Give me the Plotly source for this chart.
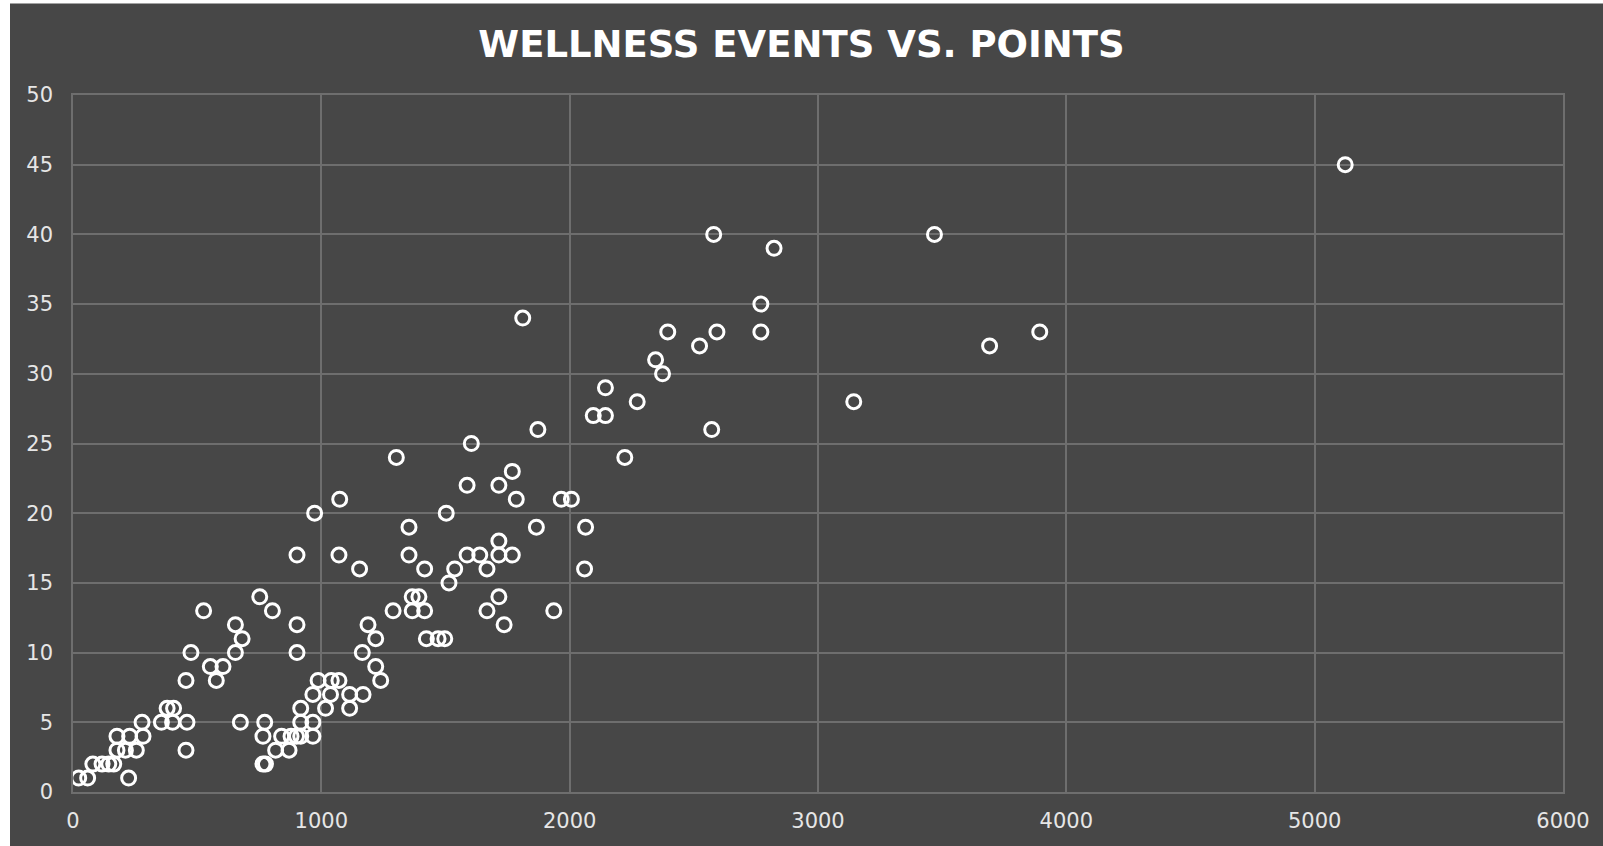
import plotly.graph_objects as go

points_earned = [
    23, 59, 80, 117, 144, 164, 224,
    177, 177, 228, 211, 255, 278, 282,
    356, 379, 405, 401, 459, 455, 455, 475, 526, 553, 577, 604, 654, 681, 654, 674,
    752, 803, 902, 902, 902,
    772, 765, 765, 775,
    816, 840, 870, 878, 900, 917, 917, 917, 966, 966, 966, 987, 1017, 1037, 1040, 1071,
    1114, 1114, 1168, 1165, 1188, 1219, 1219, 1239,
    973, 1074, 1071, 1154,
    1302, 1289, 1353, 1353, 1366, 1393, 1366, 1416, 1416, 1423, 1470, 1497, 1503, 1514,
    1537, 1587, 1587, 1604, 1638, 1667, 1667, 1715, 1715, 1715, 1715, 1736, 1769, 1769,
    1785, 1811, 1866, 1872, 1936, 1966, 2007, 2060, 2064,
    2095, 2144, 2144, 2222, 2272, 2346, 2374, 2395, 2523, 2572, 2580, 2593, 2770, 2770,
    2823, 3144, 3469, 3691, 3893, 5123,
]
wellness_events = [
    1, 1, 2, 2, 2, 2, 1,
    4, 3, 4, 3, 3, 5, 4,
    5, 6, 6, 5, 5, 3, 8, 10, 13, 9, 8, 9, 12, 11, 10, 5,
    14, 13, 12, 10, 17,
    5, 4, 2, 2,
    3, 4, 3, 4, 4, 4, 5, 6, 4, 5, 7, 8, 6, 7, 8, 8,
    7, 6, 7, 10, 12, 11, 9, 8,
    20, 21, 17, 16,
    24, 13, 19, 17, 14, 14, 13, 13, 16, 11, 11, 11, 20, 15,
    16, 22, 17, 25, 17, 16, 13, 22, 18, 17, 14, 12, 23, 17,
    21, 34, 19, 26, 13, 21, 21, 16, 19,
    27, 27, 29, 24, 28, 31, 30, 33, 32, 26, 40, 33, 35, 33,
    39, 28, 40, 32, 33, 45,
]

title_text = "WELLNESS EVENTS VS. POINTS"
x_ticks = [0, 1000, 2000, 3000, 4000, 5000, 6000]
y_ticks = [0, 5, 10, 15, 20, 25, 30, 35, 40, 45, 50]

BG = "#474747"
GRID = "#6e6e6e"
TXT = "#e6e6e6"

fig = go.Figure(go.Scatter(
    x=points_earned, y=wellness_events, mode="markers",
    marker=dict(symbol="circle-open", size=14, color="white", line=dict(width=3)),
    hoverinfo="x+y",
))

W, H = 1603, 846
plot_left, plot_right, plot_top, plot_bottom = 73, 1563, 95, 792
L, T = plot_left, plot_top
R, B = W - plot_right, H - plot_bottom
pw, ph = W - L - R, H - T - B

# dark chart panel (a thin white strip shows at left and top in the reference)
fig.add_shape(type="rect", xref="paper", yref="paper",
              x0=(10 - plot_left) / pw, x1=(W - plot_left) / pw + 0.01,
              y0=-(B + 5) / ph, y1=(plot_bottom - 3.5) / ph,
              fillcolor=BG, line=dict(width=0), layer="below")

fig.update_layout(
    width=W, height=H,
    margin=dict(l=L, r=R, t=T, b=B, autoexpand=False),
    paper_bgcolor="white", plot_bgcolor=BG,
    showlegend=False,
    title=dict(text="<b>" + title_text + "</b>", x=0.5, xanchor="center",
               y=1 - 44 / H, yanchor="middle",
               font=dict(family="DejaVu Sans", size=37, color="white")),
    font=dict(family="DejaVu Sans", size=21, color=TXT),
)
fig.update_xaxes(range=[0, 6000], tickvals=x_ticks, ticktext=[str(v) for v in x_ticks],
                 showgrid=True, gridcolor=GRID, gridwidth=1.5, zeroline=False,
                 showline=True, linecolor=GRID, linewidth=1.5, mirror=True,
                 ticks="", ticklabelstandoff=9, automargin=False)
fig.update_yaxes(range=[0, 50], tickvals=y_ticks, ticktext=[str(v) for v in y_ticks],
                 showgrid=True, gridcolor=GRID, gridwidth=1.5, zeroline=False,
                 showline=True, linecolor=GRID, linewidth=1.5, mirror=True,
                 ticks="", ticklabelstandoff=14, automargin=False)

fig.write_html(
    "out.html",
    config={"displayModeBar": False},
    post_script="document.body.style.margin='0';"
                "document.body.style.overflow='hidden';"
                "document.documentElement.style.overflow='hidden';",
)
